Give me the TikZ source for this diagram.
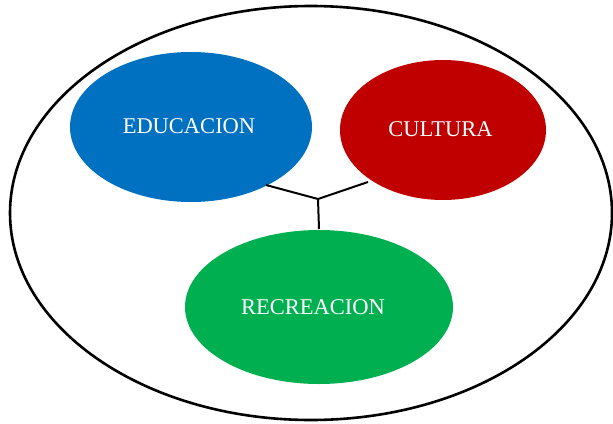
\documentclass[tikz,border=0pt]{standalone}
\usepackage{fontspec}
\setmainfont{Liberation Serif}
\usetikzlibrary{shapes.geometric}
\definecolor{eblue}{HTML}{0070C0}
\definecolor{ered}{HTML}{C00000}
\definecolor{egreen}{HTML}{00B050}
\begin{document}
\begin{tikzpicture}[x=1pt,y=-1pt,
  label/.style={text=white, font=\fontsize{22.5}{26}\selectfont},
  link/.style={draw=black, line width=2pt}]
\useasboundingbox (0,0) rectangle (613,423);
\draw[line width=2.6pt] (311,213) ellipse [x radius=301, y radius=207];
\fill[eblue] (191,127) ellipse [x radius=121, y radius=75];
\fill[ered] (443,130) ellipse [x radius=103, y radius=70];
\fill[egreen] (319,307) ellipse [x radius=134, y radius=77];
\node[label] (edu) at (189,126.5) {EDUCACION};
\node[label] (cul) at (440.5,129.5) {CULTURA};
\node[label] (rec) at (313,307.5) {RECREACION};
\coordinate (j) at (318,199);
\coordinate (a) at (266,185);
\coordinate (b) at (368,182);
\coordinate (c) at (319,229);
\draw[link] (a) -- (j) -- (b);
\draw[link] (j) -- (c);
\end{tikzpicture}
\end{document}
